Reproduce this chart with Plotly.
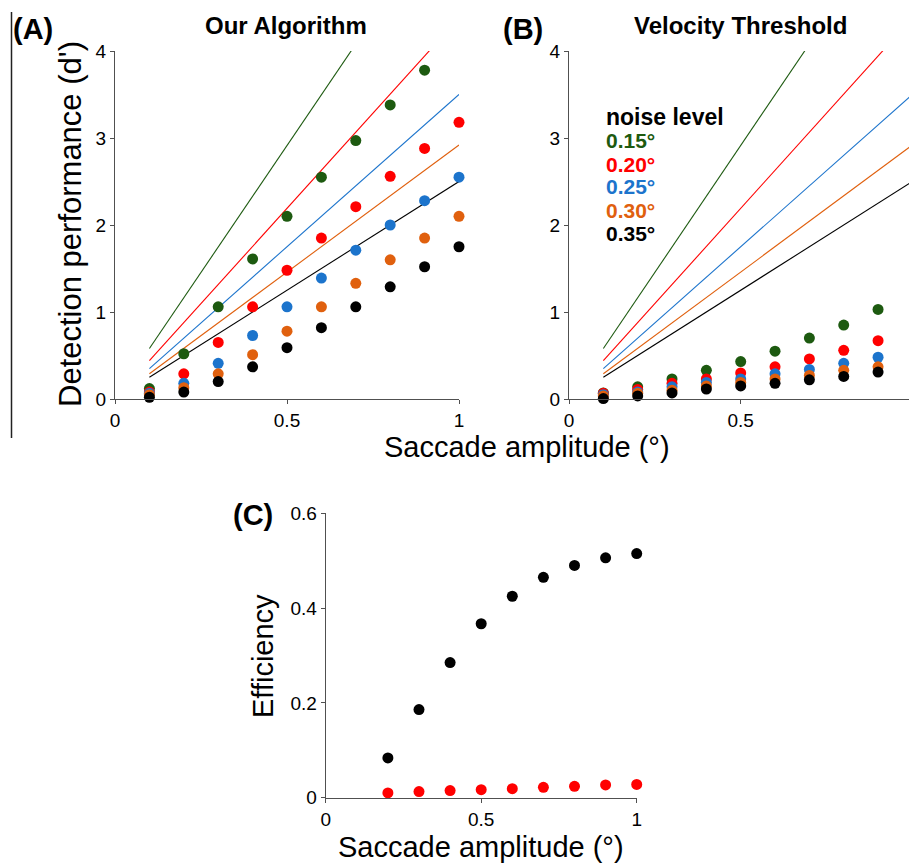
import plotly.graph_objects as go

# ---------------- data ----------------
amplitude = [0.1, 0.2, 0.3, 0.4, 0.5, 0.6, 0.7, 0.8, 0.9, 1.0]
noise_labels = ["0.15°", "0.20°", "0.25°", "0.30°", "0.35°"]
noise_colors = ["#1D5A10", "#FF0000", "#1C74CC", "#E0600E", "#000000"]

# Panel A: Our Algorithm (d')
algo_015 = [0.12, 0.52, 1.06, 1.61, 2.10, 2.55, 2.97, 3.38, 3.78, None]
algo_020 = [0.08, 0.29, 0.65, 1.06, 1.48, 1.85, 2.21, 2.56, 2.88, 3.18]
algo_025 = [0.065, 0.18, 0.41, 0.73, 1.06, 1.39, 1.71, 2.00, 2.28, 2.55]
algo_030 = [0.05, 0.13, 0.29, 0.51, 0.78, 1.06, 1.33, 1.60, 1.85, 2.10]
algo_035 = [0.02, 0.08, 0.20, 0.37, 0.59, 0.82, 1.06, 1.29, 1.52, 1.75]

# Panel B: Velocity Threshold (d')
vel_015 = [0.07, 0.14, 0.23, 0.33, 0.43, 0.55, 0.70, 0.85, 1.03, 1.18]
vel_020 = [0.065, 0.11, 0.18, 0.23, 0.30, 0.37, 0.46, 0.56, 0.67, 0.75]
vel_025 = [0.05, 0.08, 0.14, 0.19, 0.23, 0.29, 0.34, 0.41, 0.48, 0.56]
vel_030 = [0.035, 0.065, 0.10, 0.15, 0.19, 0.23, 0.27, 0.33, 0.37, 0.43]
vel_035 = [0.005, 0.035, 0.07, 0.115, 0.15, 0.18, 0.22, 0.26, 0.31, 0.35]

# Ideal-observer lines (endpoints at amplitude 0.1 and 1.0)
ideal_x = [0.1, 1.0]
ideal_015 = [0.58, 5.83]
ideal_020 = [0.44, 4.38]
ideal_025 = [0.35, 3.50]
ideal_030 = [0.29, 2.92]
ideal_035 = [0.25, 2.50]

# Panel C: Efficiency
eff_x = [0.2, 0.3, 0.4, 0.5, 0.6, 0.7, 0.8, 0.9, 1.0]
eff_algo = [0.084, 0.186, 0.285, 0.367, 0.425, 0.465, 0.490, 0.506, 0.515]
eff_vel = [0.010, 0.013, 0.015, 0.017, 0.019, 0.022, 0.024, 0.027, 0.028]

# ---------------- layout helpers ----------------
W, H = 909, 864
FONT = "Arial, 'Liberation Sans', Helvetica, sans-serif"
AXC = "#505050"


def px(x):
    return x / W


def py(y):
    return 1 - y / H


fig = go.Figure()

algo_series = [algo_015, algo_020, algo_025, algo_030, algo_035]
vel_series = [vel_015, vel_020, vel_025, vel_030, vel_035]
ideal_series = [ideal_015, ideal_020, ideal_025, ideal_030, ideal_035]

for xa, ya in [("x", "y"), ("x2", "y2")]:
    for ys, c in zip(ideal_series, noise_colors):
        fig.add_trace(go.Scatter(x=ideal_x, y=ys, mode="lines",
                                 line=dict(color=c, width=1.1),
                                 xaxis=xa, yaxis=ya, showlegend=False,
                                 hoverinfo="skip"))

for ys, c in zip(algo_series, noise_colors):
    fig.add_trace(go.Scatter(x=amplitude, y=ys, mode="markers",
                             marker=dict(color=c, size=11),
                             cliponaxis=False,
                             xaxis="x", yaxis="y", showlegend=False))

for ys, c in zip(vel_series, noise_colors):
    # points inside the visible range
    fig.add_trace(go.Scatter(x=amplitude[:-1], y=ys[:-1], mode="markers",
                             marker=dict(color=c, size=11),
                             cliponaxis=False,
                             xaxis="x2", yaxis="y2", showlegend=False))
    # last point sits on the picture's right edge (partly cut)
    fig.add_trace(go.Scatter(x=amplitude[-1:], y=ys[-1:], mode="markers",
                             marker=dict(color=c, size=11),
                             cliponaxis=True,
                             xaxis="x2", yaxis="y2", showlegend=False))

fig.add_trace(go.Scatter(x=eff_x, y=eff_vel, mode="markers",
                         marker=dict(color="#FF0000", size=11),
                         cliponaxis=False, xaxis="x3", yaxis="y3",
                         showlegend=False))
fig.add_trace(go.Scatter(x=eff_x, y=eff_algo, mode="markers",
                         marker=dict(color="#000000", size=11),
                         cliponaxis=False, xaxis="x3", yaxis="y3",
                         showlegend=False))

axis_common = dict(showgrid=False, zeroline=False, showline=True,
                   linecolor=AXC, linewidth=1, ticks="outside", ticklen=4,
                   tickcolor=AXC, tickwidth=1, automargin=False,
                   tickfont=dict(family=FONT, size=19, color="#000"))

fig.update_layout(
    width=W, height=H,
    margin=dict(l=0, r=0, t=0, b=0, pad=0, autoexpand=False),
    paper_bgcolor="white", plot_bgcolor="white",
    font=dict(family=FONT, color="#000"),
    xaxis=dict(domain=[px(115), px(459)], range=[0, 1], anchor="y",
               tickvals=[0, 0.5, 1], ticktext=["0", "0.5", "1"], **axis_common),
    yaxis=dict(domain=[py(399), py(51)], range=[0, 4], anchor="x",
               tickvals=[0, 1, 2, 3, 4], ticktext=["0", "1", "2", "3", "4"],
               **axis_common),
    xaxis2=dict(domain=[px(569), 1.0], range=[0, (909 - 569) / 343.4],
                anchor="y2", tickvals=[0, 0.5, 1], ticktext=["0", "0.5", "1"],
                **axis_common),
    yaxis2=dict(domain=[py(399), py(51)], range=[0, 4], anchor="x2",
                tickvals=[0, 1, 2, 3, 4], ticktext=["0", "1", "2", "3", "4"],
                **axis_common),
    xaxis3=dict(domain=[px(325.7), px(636.7)], range=[0, 1], anchor="y3",
                tickvals=[0, 0.5, 1], ticktext=["0", "0.5", "1"], **axis_common),
    yaxis3=dict(domain=[py(797.7), py(513.3)], range=[0, 0.6], anchor="x3",
                tickvals=[0, 0.2, 0.4, 0.6], ticktext=["0", "0.2", "0.4", "0.6"],
                **axis_common),
)

ann = []


def add_text(text, x, y, size, bold=False, color="#000", xanchor="center",
             angle=0):
    t = f"<b>{text}</b>" if bold else text
    ann.append(dict(text=t, x=px(x), y=py(y), xref="paper", yref="paper",
                    xanchor=xanchor, yanchor="middle", showarrow=False,
                    textangle=angle,
                    font=dict(family=FONT, size=size, color=color)))


add_text("(A)", 11, 29, 29, bold=True, xanchor="left")
add_text("Our Algorithm", 286, 26, 24, bold=True)
add_text("(B)", 501, 29, 29, bold=True, xanchor="left")
add_text("Velocity Threshold", 740, 26, 24, bold=True)
add_text("(C)", 231, 515, 29, bold=True, xanchor="left")

add_text("Detection performance (d')", 70, 224, 31, angle=-90)
add_text("Saccade amplitude (°)", 527, 447, 29)
add_text("Efficiency", 263, 656, 29, angle=-90)
add_text("Saccade amplitude (°)", 481, 847, 29)

add_text("noise level", 604, 117, 23, bold=True, xanchor="left")
legend_y = [141, 164, 187, 210, 233]
for lbl, c, yy in zip(noise_labels, noise_colors, legend_y):
    add_text(lbl, 604, yy, 21, bold=True, color=c, xanchor="left")

fig.update_layout(annotations=ann)

fig.add_shape(type="line", xref="paper", yref="paper",
              x0=px(11.5), x1=px(11.5), y0=py(12), y1=py(438),
              line=dict(color="#222", width=1.5))

fig.write_html("out.html", config={"displayModeBar": False},
               post_script="document.body.style.margin='0';"
                           "document.body.style.overflow='hidden';")
